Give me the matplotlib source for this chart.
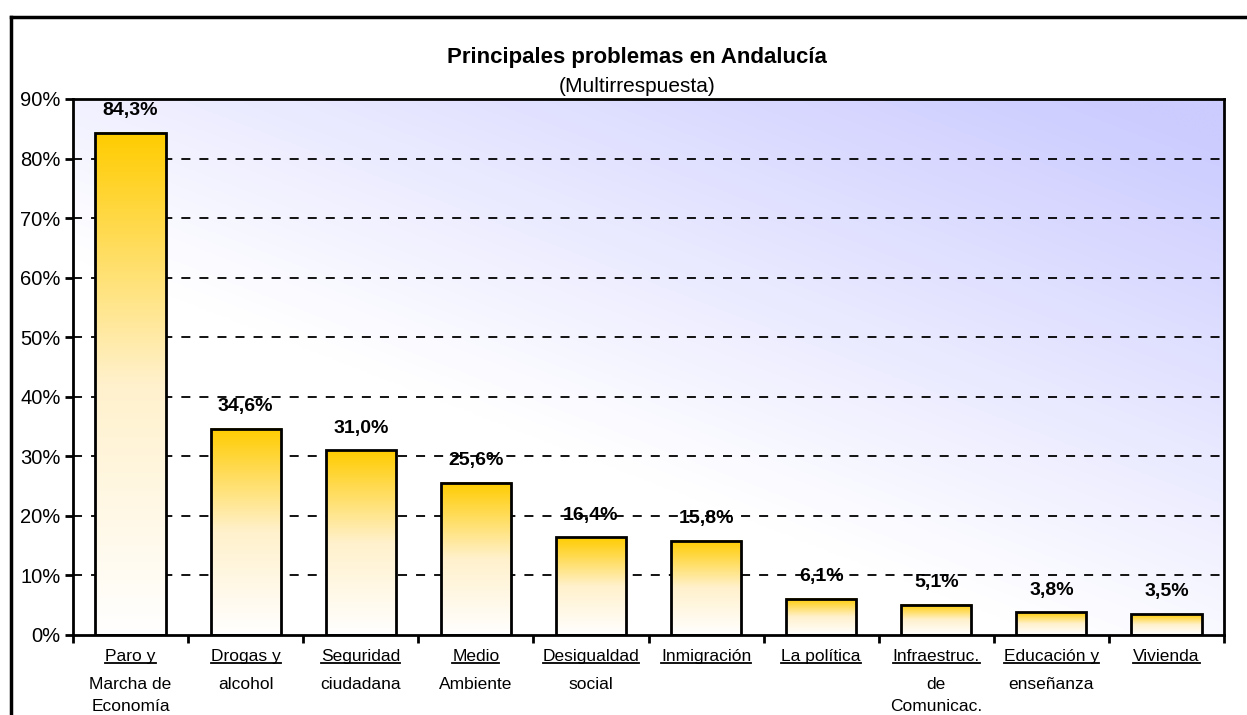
import numpy as np
import matplotlib.pyplot as plt
from matplotlib.colors import LinearSegmentedColormap
from matplotlib.lines import Line2D

plt.rcParams['font.family'] = ['Liberation Sans', 'DejaVu Sans']

# data
categories = ['Paro y\nMarcha de\nEconomía', 'Drogas y\nalcohol', 'Seguridad\nciudadana',
              'Medio\nAmbiente', 'Desigualdad\nsocial', 'Inmigración', 'La política',
              'Infraestruc.\nde\nComunicac.', 'Educación y\nenseñanza', 'Vivienda']
values = [84.3, 34.6, 31.0, 25.6, 16.4, 15.8, 6.1, 5.1, 3.8, 3.5]
yticks = [0, 10, 20, 30, 40, 50, 60, 70, 80, 90]

W, H = 1247, 715
fig = plt.figure(figsize=(W / 100, H / 100), dpi=100)
ax = fig.add_axes([73 / W, 1 - 635 / H, (1224 - 73) / W, (635 - 99) / H])

n = len(values)

# background gradient (white bottom-left -> lavender top-right)
gx, gy = np.meshgrid(np.linspace(0, 1, 300), np.linspace(0, 1, 200))
t = np.clip((gx + 1.2 * gy - 0.85) / 1.25, 0, 1)
bg = LinearSegmentedColormap.from_list('bg', ['#ffffff', '#ccccff'])
ax.imshow(t, cmap=bg, vmin=0, vmax=1, origin='lower', extent=[0, n, 0, 90],
          aspect='auto', zorder=0, interpolation='bicubic')

# gridlines
for v in yticks[1:-1]:
    ax.axhline(v, color='black', lw=1.3, ls=(0, (5, 5)), zorder=1)

# bars with vertical gradient
barcm = LinearSegmentedColormap.from_list('bar', ['#ffffff', '#fff1cc', '#ffcc00'])
grad = np.linspace(0, 1, 256).reshape(-1, 1)
bw = 0.61
for i, v in enumerate(values):
    x0 = i + 0.5 - bw / 2
    ax.imshow(grad, cmap=barcm, origin='lower', extent=[x0, x0 + bw, 0, v],
              aspect='auto', zorder=2)
    ax.bar(i + 0.5, v, width=bw, facecolor='none', edgecolor='black', lw=2, zorder=3)
    ax.annotate(f'{v:.1f}%'.replace('.', ','), (i + 0.5, v), xytext=(0, 16),
                textcoords='offset points', ha='center', va='center',
                fontsize=14, fontweight='bold', zorder=4)

ax.set_xlim(0, n)
ax.set_ylim(0, 90)

for s in ax.spines.values():
    s.set_linewidth(2)
    s.set_zorder(5)

ax.set_yticks(yticks)
ax.set_yticklabels([f'{v}%' for v in yticks], fontsize=14.5)
ax.tick_params(axis='y', direction='out', length=6, width=2, pad=3)
ax.set_xticks(range(n + 1))
ax.set_xticklabels([])
ax.tick_params(axis='x', direction='out', length=6, width=2)

# category labels, first line underlined
fig.canvas.draw()
r = fig.canvas.get_renderer()
for i, c in enumerate(categories):
    lines = c.split('\n')
    first = ax.annotate(lines[0], (i + 0.5, 0), xytext=(0, -10), textcoords='offset points',
                        ha='center', va='top', fontsize=12.5)
    if len(lines) > 1:
        ax.annotate('\n'.join(lines[1:]), (i + 0.5, 0), xytext=(0, -30),
                    textcoords='offset points', ha='center', va='top', fontsize=12.5,
                    linespacing=1.65, annotation_clip=False)
    bb = first.get_window_extent(r)
    fig.add_artist(Line2D([bb.x0 / W, bb.x1 / W], [(bb.y0 + 1) / H] * 2,
                          color='black', lw=1.3))

# titles
fig.text(637 / W, 1 - 57 / H, 'Principales problemas en Andalucía', ha='center', va='center',
         fontsize=16, fontweight='bold')
fig.text(637 / W, 1 - 86 / H, '(Multirrespuesta)', ha='center', va='center', fontsize=15)

# outer frame (top and left edges)
fig.add_artist(Line2D([11 / W, 1], [1 - 17 / H] * 2, color='black', lw=2.5))
fig.add_artist(Line2D([11 / W] * 2, [0, 1 - 17 / H], color='black', lw=2.5))

fig.savefig('out.png', dpi=100)
